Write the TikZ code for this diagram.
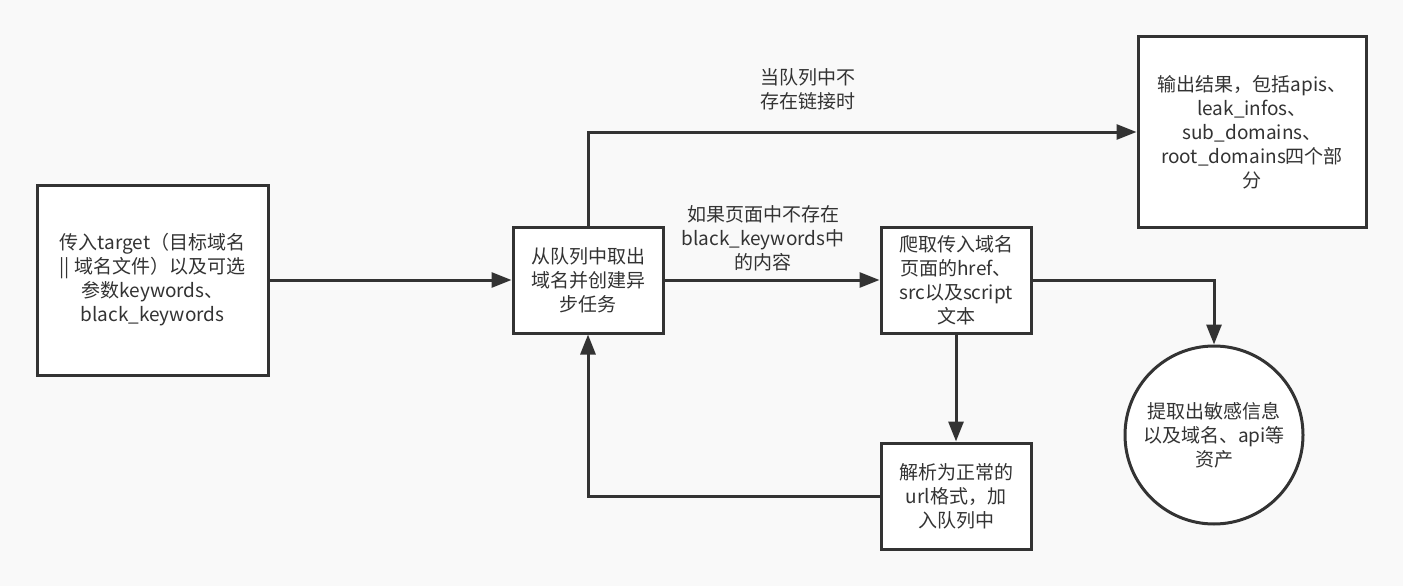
\documentclass[tikz,border=0pt]{standalone}
\usepackage{fontspec}
\setmainfont{Noto Sans CJK SC}
\usetikzlibrary{arrows.meta,shapes.geometric}
\definecolor{bgc}{RGB}{249,249,249}
\definecolor{ink}{RGB}{51,51,51}
\tikzset{
  txt/.style={font=\fontsize{19}{24}\selectfont},
  box/.style={draw=ink, line width=3pt, fill=white, inner sep=0pt, align=center, text=ink, txt},
  circ/.style={draw=ink, line width=3pt, fill=white, circle, inner sep=0pt, align=center, text=ink,
    txt, minimum size=178pt},
  lab/.style={align=center, text=ink, txt, inner sep=0pt},
  conn/.style={draw=ink, line width=3pt, -{Triangle[length=20pt,width=15pt]}}
}
\begin{document}
\begin{tikzpicture}[x=1pt,y=-1pt]
\useasboundingbox[fill=bgc] (0,0) rectangle (1403,586);
\node[box, minimum width=231pt, minimum height=190pt] (in) at (152.5,280)
  {传入target（目标域名\\|| 域名文件）以及可选\\参数keywords、\\black\_keywords};
\node[box, minimum width=150pt, minimum height=106pt] (q) at (588,280)
  {从队列中取出\\域名并创建异\\步任务};
\node[box, minimum width=150pt, minimum height=106pt] (crawl) at (956,280)
  {爬取传入域名\\页面的href、\\src以及script\\文本};
\node[box, minimum width=228pt, minimum height=190pt] (out) at (1252,132)
  {输出结果，包括apis、\\leak\_infos、\\sub\_domains、\\root\_domains四个部\\分};
\node[box, minimum width=150pt, minimum height=106pt] (parse) at (956,496)
  {解析为正常的\\url格式，加\\入队列中};
\node[circ] (ext) at (1214,435) {提取出敏感信息\\以及域名、api等\\资产};
\node[lab] (l1) at (808,89) {当队列中不\\存在链接时};
\node[lab] (l2) at (763,238) {如果页面中不存在\\black\_keywords中\\的内容};
\draw[conn] (in.east) -- (q.west);
\draw[conn] (q.east) -- (crawl.west);
\draw[conn] (q.north) |- (out.west);
\draw[conn] (crawl.east) -| (ext.north);
\draw[conn] (crawl.south) -- (parse.north);
\draw[conn] (parse.west) -| (q.south);
\end{tikzpicture}
\end{document}
